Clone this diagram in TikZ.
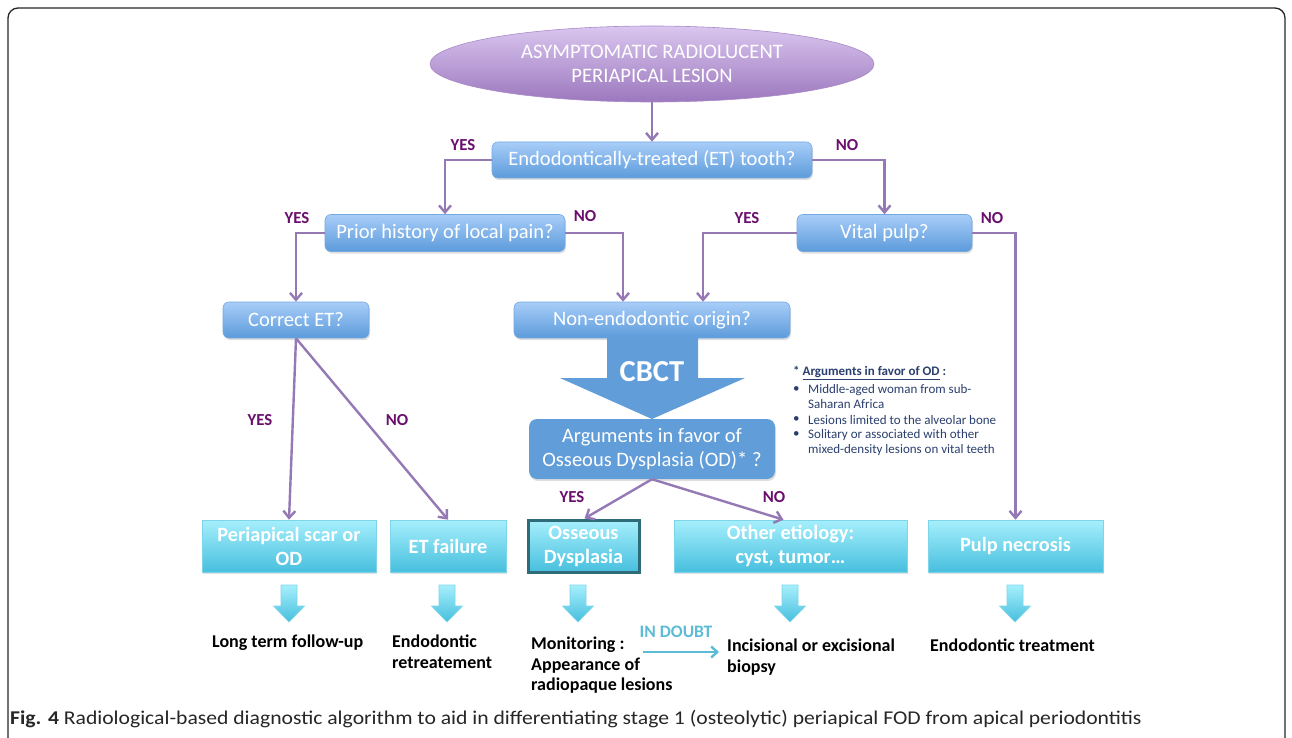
\documentclass[tikz,border=0pt]{standalone}
\usepackage{fontspec}
\setmainfont{Carlito}
\newfontfamily\capfont[FakeStretch=1.11]{Carlito}
\usetikzlibrary{arrows.meta,shapes.geometric,shadows,calc}
\definecolor{ellT}{HTML}{DAC6EF}
\definecolor{ellB}{HTML}{9C78BE}
\definecolor{ellD}{HTML}{A98AC8}
\definecolor{qT}{HTML}{A8CDF8}
\definecolor{qB}{HTML}{5C9BDB}
\definecolor{qD}{HTML}{74A9E0}
\definecolor{aFill}{HTML}{619DD9}
\definecolor{cT}{HTML}{A6EFFC}
\definecolor{cB}{HTML}{47BFDE}
\definecolor{cD}{HTML}{7DD5EA}
\definecolor{osD}{HTML}{2F6C77}
\definecolor{lineP}{HTML}{9479B5}
\definecolor{labP}{HTML}{6A0F6E}
\definecolor{noteC}{HTML}{2A3F6E}
\definecolor{doubtC}{HTML}{5CBCD6}
\begin{document}
\begin{tikzpicture}[x=1pt,y=-1pt,
  qbox/.style={rectangle, rounded corners=6pt, top color=qT, bottom color=qB, draw=qD, line width=0.6pt,
    text=white, align=center, inner sep=0pt, font=\fontsize{20.5}{24}\selectfont,
    drop shadow={opacity=0.25, shadow xshift=1pt, shadow yshift=-2pt}},
  abox/.style={rectangle, rounded corners=8pt, fill=aFill, text=white, align=center, inner sep=0pt,
    font=\fontsize{20.5}{24}\selectfont, drop shadow={opacity=0.25, shadow xshift=1pt, shadow yshift=-2pt}},
  cbox/.style={rectangle, top color=cT, bottom color=cB, draw=cD, line width=0.6pt, text=white,
    align=center, inner sep=0pt, minimum height=52pt, font=\bfseries\fontsize{20.3}{24}\selectfont,
    drop shadow={opacity=0.25, shadow xshift=1pt, shadow yshift=-2pt}},
  conn/.style={draw=lineP, line width=2.4pt, -{Straight Barb[length=7pt,width=12pt,line width=2.4pt]}},
  lab/.style={text=labP, font=\bfseries\fontsize{16.8}{18}\selectfont, inner sep=0pt},
  btext/.style={font=\bfseries\fontsize{18}{20.5}\selectfont, align=left, inner sep=0pt, anchor=north west},
  notet/.style={text=noteC, font=\fontsize{13}{15}\selectfont, inner sep=0pt, anchor=west},
  dnarrow/.pic={\shade[top color=cT, bottom color=cB, draw=cD, line width=0.6pt]
    (-8,0) -- (8,0) -- (8,21) -- (15.5,21) -- (0,37) -- (-15.5,21) -- (-8,21) -- cycle;}
]
\useasboundingbox (0,0) rectangle (1292,738);
\clip (0,0) rectangle (1292,738);
\fill[white] (0,0) rectangle (1292,738);
\draw[black!85, line width=1.3pt, rounded corners=10pt] (8,8) rectangle (1285,790);

% start ellipse
\node[ellipse, minimum width=444pt, minimum height=76pt, top color=ellT, bottom color=ellB, draw=ellD,
  line width=0.6pt, align=center, text=white, inner sep=0pt, font=\fontsize{20.6}{24}\selectfont]
  (start) at (652,64) {ASYMPTOMATIC RADIOLUCENT\\PERIAPICAL LESION};

% question boxes
\node[qbox, minimum width=320pt, minimum height=36pt] (et) at (652,160) {Endodontically-treated (ET) tooth?};
\node[qbox, minimum width=240pt, minimum height=37pt] (prior) at (445,233) {Prior history of local pain?};
\node[qbox, minimum width=175pt, minimum height=37pt] (vital) at (884.5,233) {Vital pulp?};
\node[qbox, minimum width=146pt, minimum height=36pt] (correct) at (296,320) {Correct ET?};
\node[qbox, minimum width=276pt, minimum height=36pt] (nonendo) at (652,320) {Non-endodontic origin?};

% CBCT arrow
\fill[aFill] (607,338) -- (698,338) -- (698,378) -- (745,378) -- (652,419) -- (560,378) -- (607,378) -- cycle;
\node[text=white, font=\bfseries\fontsize{30.5}{32}\selectfont, inner sep=0pt] (cbct) at (652,372) {CBCT};

\node[abox, minimum width=246pt, minimum height=60pt] (args) at (652,449) {Arguments in favor of\\Osseous Dysplasia (OD)* ?};

% result boxes
\node[cbox, minimum width=174pt] (scar) at (289,546) {Periapical scar or\\OD};
\node[cbox, minimum width=116pt] (etfail) at (448,546) {ET failure};
\node[cbox, minimum width=111pt, draw=osD, line width=3pt] (osseous) at (583.5,546) {Osseous\\Dysplasia};
\node[cbox, minimum width=233pt] (other) at (790.5,546) {Other etiology:\\cyst, tumor\dots};
\node[cbox, minimum width=175pt] (pulp) at (1015.5,546) {Pulp necrosis};

% connectors
\draw[conn] (start.south) -- (et.north);
\draw[conn] (et.west) -| (prior.north);
\draw[conn] (et.east) -| (vital.north);
\draw[conn] (prior.west) -| (correct.north);
\draw[conn] (prior.east) -| ([xshift=-29pt]nonendo.north);
\draw[conn] (vital.west) -| ([xshift=51pt]nonendo.north);
\draw[conn] (vital.east) -| (pulp.north);
\draw[conn] (correct.south) -- (scar.north);
\draw[conn] (correct.south) -- (etfail.north);
\draw[conn] (args.south) -- ([xshift=1pt]osseous.north);
\draw[conn] (args.south) -- ([xshift=-7pt]other.north);

% labels
\node[lab] at (463,145) {YES};
\node[lab] at (847,145) {NO};
\node[lab] at (297,218) {YES};
\node[lab] at (585,216) {NO};
\node[lab] at (747,218) {YES};
\node[lab] at (992,218) {NO};
\node[lab] at (260,420) {YES};
\node[lab] at (397,420) {NO};
\node[lab] at (572,497) {YES};
\node[lab] at (774,497) {NO};

% down arrows
\pic at (289,585) {dnarrow};
\pic at (447,585) {dnarrow};
\pic at (578,585) {dnarrow};
\pic at (790,585) {dnarrow};
\pic at (1015,585) {dnarrow};

% outcomes
\node[btext] (ltf) at (212,635) {Long term follow-up};
\node[btext] (retreat) at (392,635) {Endodontic\\retreatement};
\node[btext] (monit) at (531,637) {Monitoring :\\Appearance of\\radiopaque lesions};
\node[btext] (biopsy) at (727,639) {Incisional or excisional\\biopsy};
\node[btext] (endot) at (930,639) {Endodontic treatment};

\node[text=doubtC, font=\bfseries\fontsize{17.5}{19}\selectfont, inner sep=0pt] (doubt) at (676,632) {IN DOUBT};
\coordinate (d1) at (643,652);
\coordinate (d2) at (719,652);
\draw[draw=doubtC, line width=2.4pt, -{Straight Barb[length=6pt,width=11pt,line width=2.4pt]}] (d1) -- (d2);

% note
\node[notet, text=noteC] (notetitle) at (793,373) {\bfseries * \underline{Arguments in favor of OD} :};
\node[notet] at (793,390) {\textbullet};
\node[notet] at (808,390) {Middle-aged woman from sub-};
\node[notet] at (808,404) {Saharan Africa};
\node[notet] at (793,420) {\textbullet};
\node[notet] at (808,420) {Lesions limited to the alveolar bone};
\node[notet] at (793,435) {\textbullet};
\node[notet] at (808,435) {Solitary or associated with other};
\node[notet] at (808,450) {mixed-density lesions on vital teeth};

% caption
\node[anchor=base west, inner sep=0pt, text=black!85, font=\capfont\fontsize{19.5}{22}\selectfont] (caption) at (10,724)
  {\textbf{Fig. 4} Radiological-based diagnostic algorithm to aid in differentiating stage 1 (osteolytic) periapical FOD from apical periodontitis};
\end{tikzpicture}
\end{document}
